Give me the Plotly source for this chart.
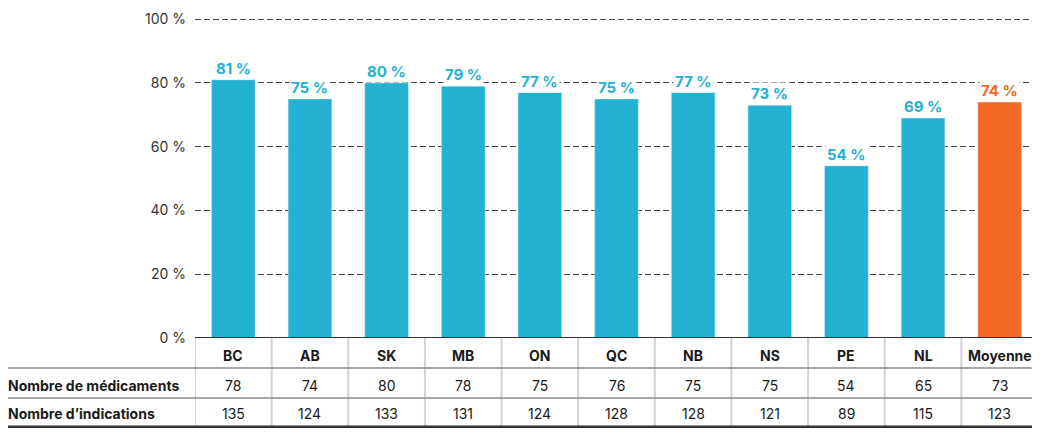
import plotly.graph_objects as go

provinces = ["BC", "AB", "SK", "MB", "ON", "QC", "NB", "NS", "PE", "NL", "Moyenne"]
pct_values = [81, 75, 80, 79, 77, 75, 77, 73, 54, 69, 74]
nb_medicaments = [78, 74, 80, 78, 75, 76, 75, 75, 54, 65, 73]
nb_indications = [135, 124, 133, 131, 124, 128, 128, 121, 89, 115, 123]
row_labels = ["Nombre de médicaments", "Nombre d’indications"]
y_ticks = [0, 20, 40, 60, 80, 100]

BLUE = "#22b1d3"
ORANGE = "#f26924"
colors = [BLUE] * (len(provinces) - 1) + [ORANGE]

FONT = "Inter"
x_idx = list(range(len(provinces)))

fig = go.Figure()
fig.add_trace(go.Bar(
    x=x_idx, y=pct_values, marker_color=colors, width=0.57,
    hoverinfo="skip",
))

# value labels (white background hides gridlines like the reference)
for i, v in enumerate(pct_values):
    fig.add_annotation(x=i, y=v, xref="x", yref="y", text=f"<b>{v} %</b>",
                       showarrow=False, yanchor="bottom", yshift=0,
                       bgcolor="white", borderpad=1,
                       font=dict(family=FONT, size=15, color=colors[i]))

# Table rows
ROW_Y = [-0.0559, -0.146, -0.236]
LEFT = -0.224
for i, p in enumerate(provinces):
    fig.add_annotation(x=i, y=ROW_Y[0], xref="x", yref="paper", text=f"<b>{p}</b>",
                       showarrow=False, yanchor="middle",
                       font=dict(family=FONT, size=14, color="#1a1a1a"))
    fig.add_annotation(x=i, y=ROW_Y[1], xref="x", yref="paper", text=str(nb_medicaments[i]),
                       showarrow=False, yanchor="middle",
                       font=dict(family=FONT, size=14, color="#1a1a1a"))
    fig.add_annotation(x=i, y=ROW_Y[2], xref="x", yref="paper", text=str(nb_indications[i]),
                       showarrow=False, yanchor="middle",
                       font=dict(family=FONT, size=14, color="#1a1a1a"))

for j, lab in enumerate(row_labels):
    fig.add_annotation(x=LEFT, y=ROW_Y[j + 1], xref="paper", yref="paper", text=f"<b>{lab}</b>",
                       showarrow=False, xanchor="left", yanchor="middle",
                       font=dict(family=FONT, size=14, color="#1a1a1a"))

# vertical lines
for k in range(len(provinces) + 1):
    fig.add_shape(type="line", xref="x", yref="paper", x0=k - 0.5, x1=k - 0.5, y0=0, y1=-0.276,
                  line=dict(color="#d6d2ce", width=2))
# horizontal lines
for yy in [-0.0932, -0.186]:
    fig.add_shape(type="line", xref="paper", yref="paper", x0=LEFT, x1=1, y0=yy, y1=yy,
                  line=dict(color="#8a8a8a", width=1.5))
fig.add_shape(type="line", xref="paper", yref="paper", x0=LEFT, x1=1, y0=-0.276, y1=-0.276,
              line=dict(color="#333333", width=2.5))
# axis baseline
fig.add_shape(type="line", xref="paper", yref="y", x0=0, x1=1, y0=0, y1=0,
              line=dict(color="#333333", width=2))

fig.update_layout(
    width=1032, height=430,
    margin=dict(l=187, r=2, t=8, b=100),
    plot_bgcolor="white", paper_bgcolor="white",
    showlegend=False,
    xaxis=dict(range=[-0.5, len(provinces) - 0.5], showticklabels=False, showgrid=False,
               zeroline=False, fixedrange=True),
    yaxis=dict(range=[0, 101], tickvals=y_ticks, ticktext=[f"{t} %" for t in y_ticks],
               showgrid=True, gridcolor="#4a4a4a", griddash="6px,3px", gridwidth=1,
               zeroline=False, ticklabelstandoff=8,
               tickfont=dict(family=FONT, size=14, color="#333333")),
    font=dict(family=FONT),
)

fig.write_html("out.html")
